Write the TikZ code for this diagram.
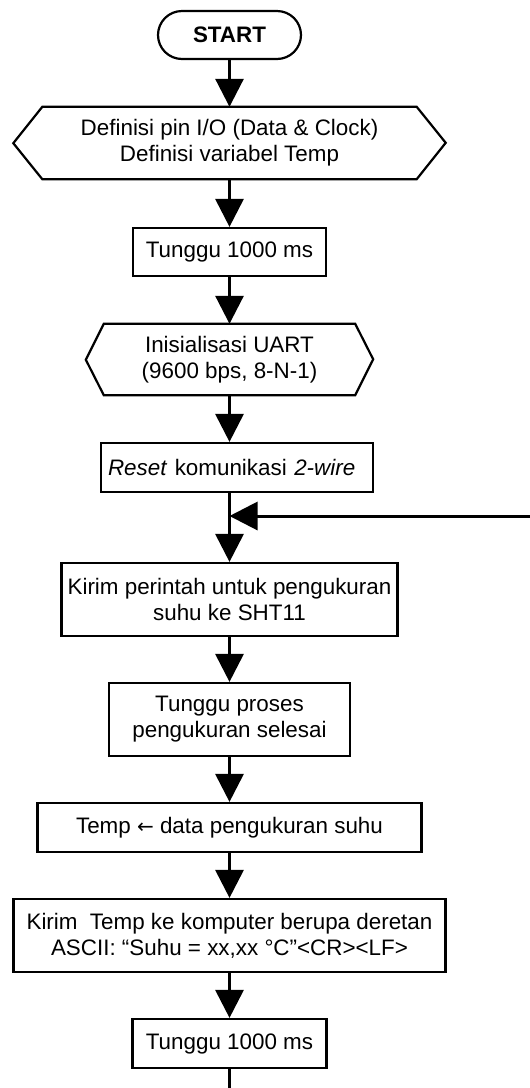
\documentclass[tikz,border=0pt]{standalone}
\usepackage{fontspec}
\setmainfont{Liberation Sans}
\newfontfamily\arrowfont{DejaVu Sans}
\usetikzlibrary{arrows.meta}
\begin{document}
\begin{tikzpicture}[x=1pt,y=-1pt,
  txt/.style={font=\fontsize{22.4}{25.8}\selectfont},
  box/.style={txt, draw, line width=2.2pt, align=center, inner sep=0pt},
  body/.style={txt, align=center, inner sep=0pt},
  hexline/.style={line width=2.2pt, line join=miter},
  conn/.style={line width=3pt, -{Triangle[length=28pt,width=28pt]}},
  plainline/.style={line width=3pt}]
\useasboundingbox (0,0) rectangle (530,1088);

\node[box, rounded corners=24pt, minimum width=143pt, minimum height=48pt,
      font=\fontsize{22.4}{25.8}\selectfont\bfseries] (start) at (229.5,35) {START};

\node[body, minimum width=374pt, minimum height=72pt] (def) at (229.5,143)
  {Definisi pin I/O (Data \& Clock)\\Definisi variabel Temp};
\draw[hexline] (def.north west) -- (def.north east) -- ++(29,36) -- (def.south east)
  -- (def.south west) -- ++(-29,-36) -- cycle;

\node[box, minimum width=193pt, minimum height=48pt] (wait1) at (229.5,252) {Tunggu 1000 ms};

\node[body, minimum width=251pt, minimum height=71pt] (uart) at (229.5,359.5)
  {Inisialisasi UART\\(9600 bps, 8-N-1)};
\draw[hexline] (uart.north west) -- (uart.north east) -- ++(18,35.5) -- (uart.south east)
  -- (uart.south west) -- ++(-18,-35.5) -- cycle;

\node[box, inner xsep=7pt, text width=258pt, align=left, minimum height=49pt] (reset) at (237,467.5)
  {\textit{Reset} komunikasi \textit{2-wire}};

\node[box, minimum width=336pt, minimum height=73pt] (kirim) at (229.5,599.5)
  {Kirim perintah untuk pengukuran\\suhu ke SHT11};

\node[box, minimum width=241pt, minimum height=73pt] (proses) at (229.5,719.5)
  {Tunggu proses\\pengukuran selesai};

\node[box, minimum width=384pt, minimum height=49pt] (temp) at (229.5,827.5)
  {Temp {\arrowfont\fontsize{20}{25.8}\selectfont ←} data pengukuran suhu};

\node[box, minimum width=432pt, minimum height=73pt] (send) at (229.5,935.5)
  {Kirim\ \ Temp ke komputer berupa deretan\\ASCII: “Suhu = xx,xx °C”<CR><LF>};

\node[box, minimum width=194pt, minimum height=49pt] (wait2) at (229.5,1043.5) {Tunggu 1000 ms};

\coordinate (junc) at (229.5,516);
\coordinate (loopin) at (530,516);
\coordinate (bottom) at (229.5,1088);

\draw[conn] (start.south) -- (def.north);
\draw[conn] (def.south) -- (wait1.north);
\draw[conn] (wait1.south) -- (uart.north);
\draw[conn] (uart.south) -- (uart.south |- reset.north);
\draw[conn] (kirim.north |- reset.south) -- (kirim.north);
\draw[conn] (loopin) -- (junc);
\draw[conn] (kirim.south) -- (proses.north);
\draw[conn] (proses.south) -- (temp.north);
\draw[conn] (temp.south) -- (send.north);
\draw[conn] (send.south) -- (wait2.north);
\draw[plainline] (wait2.south) -- (bottom);
\end{tikzpicture}
\end{document}
